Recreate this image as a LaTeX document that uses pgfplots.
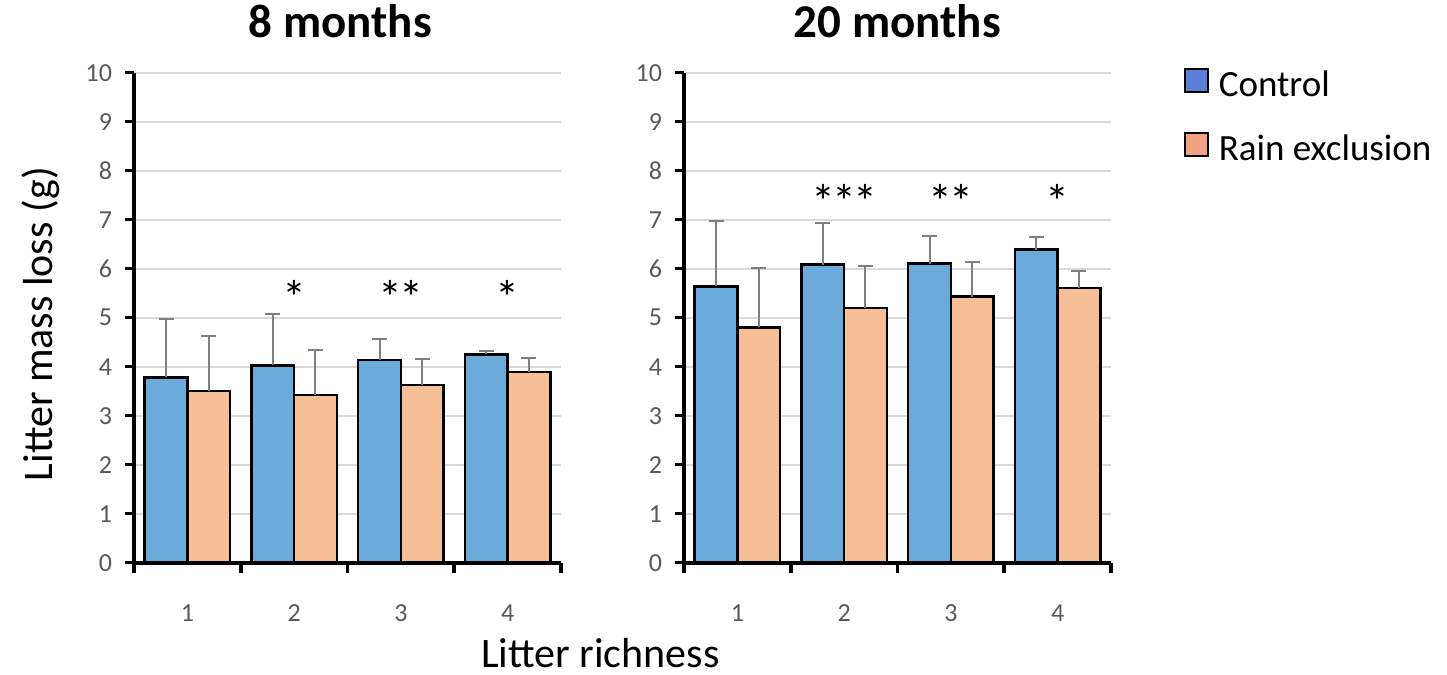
\documentclass[border=0pt]{standalone}
\usepackage{pgfplots}
\pgfplotsset{compat=1.18}
\usepackage{pgfplotstable}
\usepackage{fontspec}
\setmainfont{Carlito}
\definecolor{cblue}{HTML}{6AABDB}
\definecolor{corange}{HTML}{F6BF96}
\definecolor{lblue}{HTML}{5B7FD9}
\definecolor{lorange}{HTML}{F0A282}
\definecolor{tickgray}{HTML}{595959}
\definecolor{errgray}{HTML}{7F7F7F}
\definecolor{gridgray}{HTML}{D9D9D9}

\pgfplotstableread{
x c ce r re
1 3.78 1.19 3.50 1.13
2 4.03 1.05 3.42 0.93
3 4.14 0.42 3.63 0.52
4 4.25 0.08 3.89 0.29
}\eightm
\pgfplotstableread{
x c ce r re
1 5.64 1.33 4.80 1.21
2 6.08 0.85 5.20 0.86
3 6.10 0.57 5.43 0.71
4 6.39 0.26 5.61 0.35
}\twentym

\tikzset{stars/.style={anchor=base, font=\fontsize{24}{28}\selectfont}}

\pgfplotsset{
 panel/.style={
  scale only axis, width=213.5pt, height=245pt,
  anchor=south west,
  xmin=0.5, xmax=4.5, ymin=0, ymax=10,
  ytick={0,...,10},
  xtick={1,2,3,4},
  minor xtick={0.5,1.5,2.5,3.5,4.5},
  major x tick style={draw=none},
  axis x line*=bottom, axis y line*=left,
  axis line style={-, line width=2pt, black},
  tick align=outside, major tick length=4.5pt, minor tick length=5pt,
  tick style={black, line width=1.8pt},
  minor tick style={black, line width=1.8pt},
  ymajorgrids, grid style={gridgray, line width=0.9pt},
  /pgf/number format/assume math mode=true,
  xticklabel={\fontsize{13}{15}\selectfont\pgfmathprintnumber{\tick}},
  yticklabel={\fontsize{13}{15}\selectfont\pgfmathprintnumber{\tick}},
  ticklabel style={text=tickgray},
  xticklabel style={yshift=-13pt},
  yticklabel style={xshift=-3pt},
  ybar, bar width=0.4,
  error bars/y dir=plus, error bars/y explicit,
  error bars/error bar style={errgray, line width=1pt},
  error bars/error mark options={rotate=90, errgray, mark size=3.75pt, line width=1pt},
  clip=false,
 },
 barc/.style={fill=cblue, draw=black, line width=1.3pt, bar shift=-0.2, forget plot},
 barr/.style={fill=corange, draw=black, line width=1.3pt, bar shift=0.2, forget plot},
}

\begin{document}
\begin{tikzpicture}
\useasboundingbox (0,0) rectangle (723.5pt,337.5pt);
\fill[white] (0,0) rectangle (723.5pt,337.5pt);

\begin{axis}[panel, at={(67pt,56.15pt)}]
\addplot[barc] table[x=x, y=c, y error=ce] {\eightm};
\addplot[barr] table[x=x, y=r, y error=re] {\eightm};
\node[stars] at (axis cs:2,5.07) {*};
\node[stars] at (axis cs:3,5.07) {*\kern-1.5pt*};
\node[stars] at (axis cs:4,5.07) {*};
\end{axis}

\begin{axis}[panel, at={(342pt,56.15pt)},
  legend style={at={(1.17,1.01)}, anchor=north west, draw=none, fill=none,
    inner sep=0pt, font=\fontsize{18.5}{22}\selectfont, row sep=15.5pt,
    nodes={inner sep=1pt},
    /tikz/every odd column/.append style={column sep=4pt}},
  legend cell align=left]
\addplot[barc] table[x=x, y=c, y error=ce] {\twentym};
\addplot[barr] table[x=x, y=r, y error=re] {\twentym};
\addlegendimage{legend image code/.code={\draw[fill=lblue, draw=black, line width=0.9pt] (0pt,-3.5pt) rectangle (11.5pt,8pt);}}
\addlegendentry{Control}
\addlegendimage{legend image code/.code={\draw[fill=lorange, draw=black, line width=0.9pt] (0pt,-3.5pt) rectangle (11.5pt,8pt);}}
\addlegendentry{Rain exclusion}
\node[stars] at (axis cs:2,7.03) {*\kern-1.5pt*\kern-1.5pt*};
\node[stars] at (axis cs:3,7.03) {*\kern-1.5pt*};
\node[stars] at (axis cs:4,7.03) {*};
\end{axis}

\node[anchor=base, font=\bfseries\fontsize{23.5}{28}\selectfont] at (170.2pt,318.9pt) {8 months};
\node[anchor=base, font=\bfseries\fontsize{23.5}{28}\selectfont] at (448.7pt,318.9pt) {20 months};
\node[anchor=base, font=\fontsize{21}{25}\selectfont] at (300.2pt,3.8pt) {Litter richness};
\node[anchor=base, rotate=90, font=\fontsize{21}{25}\selectfont] at (26.5pt,175.4pt) {Litter mass loss (g)};
\end{tikzpicture}
\end{document}
